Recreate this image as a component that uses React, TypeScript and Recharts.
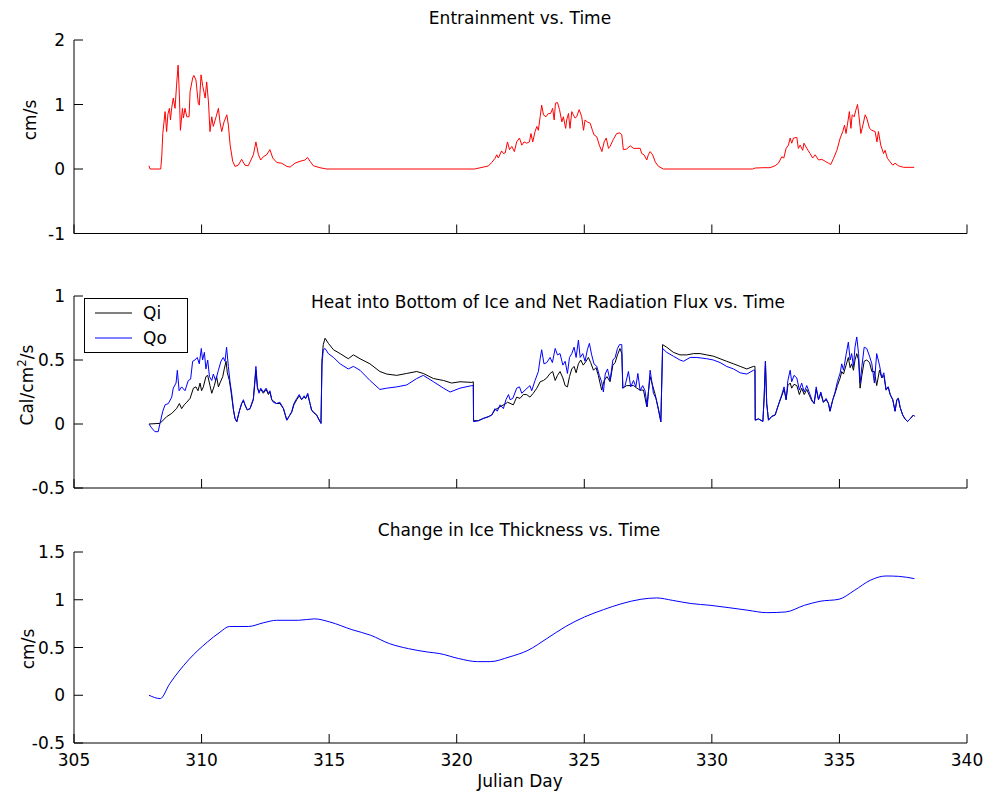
import { LineChart, Line, XAxis, YAxis, Legend } from "recharts";

const FONT = '"DejaVu Sans", Arial, sans-serif';
const FS = 17;

// [julian day, value]
const entrainment: [number, number][] = [
  [307.94, 0.05], [307.98, 0.0], [308.4, 0.0], [308.44, 0.2], [308.48, 0.55], [308.52, 0.7], [308.57, 0.89],
  [308.63, 0.58], [308.68, 0.85], [308.74, 0.94], [308.78, 0.76], [308.83, 0.95], [308.89, 1.1], [308.96, 0.94],
  [309.02, 1.3], [309.08, 1.61], [309.13, 1.15], [309.17, 0.6], [309.25, 0.94], [309.29, 0.79], [309.35, 0.94],
  [309.42, 0.81], [309.51, 0.81], [309.55, 1.2], [309.65, 1.41], [309.7, 1.45], [309.78, 1.38], [309.87, 1.02],
  [309.91, 0.99], [309.98, 1.46], [310.04, 1.3], [310.14, 1.1], [310.2, 1.35], [310.27, 1.04], [310.33, 0.58],
  [310.4, 0.81], [310.46, 0.66], [310.57, 0.81], [310.66, 0.94], [310.72, 0.73], [310.79, 0.58], [310.88, 0.73],
  [310.99, 0.84], [311.05, 0.68], [311.12, 0.37], [311.22, 0.12], [311.31, 0.04], [311.44, 0.06], [311.57, 0.15],
  [311.7, 0.06], [311.83, 0.05], [312.03, 0.22], [312.13, 0.42], [312.23, 0.22], [312.32, 0.14], [312.42, 0.19],
  [312.55, 0.22], [312.68, 0.3], [312.79, 0.17], [312.95, 0.1], [313.14, 0.09], [313.34, 0.04], [313.47, 0.03],
  [313.66, 0.09], [313.86, 0.12], [314.06, 0.14], [314.15, 0.18], [314.25, 0.12], [314.38, 0.05], [314.64, 0.02],
  [314.9, 0.0], [320.7, 0.0], [321.24, 0.047], [321.37, 0.1], [321.5, 0.165], [321.57, 0.22], [321.63, 0.17],
  [321.76, 0.28], [321.83, 0.24], [321.9, 0.25], [321.99, 0.42], [322.07, 0.3], [322.16, 0.35], [322.26, 0.27],
  [322.35, 0.42], [322.46, 0.48], [322.55, 0.37], [322.64, 0.42], [322.74, 0.4], [322.85, 0.42], [322.91, 0.55],
  [322.98, 0.42], [323.07, 0.58], [323.14, 0.66], [323.2, 0.6], [323.27, 0.81], [323.33, 0.99], [323.4, 0.84],
  [323.5, 0.81], [323.59, 0.86], [323.68, 0.86], [323.76, 0.94], [323.82, 0.76], [323.87, 1.02], [323.95, 1.03],
  [324.03, 0.92], [324.12, 0.73], [324.18, 0.81], [324.27, 0.63], [324.31, 0.76], [324.38, 0.86], [324.44, 0.63],
  [324.51, 0.89], [324.57, 0.84], [324.64, 0.79], [324.7, 0.81], [324.8, 0.92], [324.9, 0.81], [324.97, 0.6],
  [325.03, 0.76], [325.12, 0.73], [325.23, 0.71], [325.32, 0.6], [325.38, 0.53], [325.49, 0.5], [325.59, 0.37],
  [325.69, 0.27], [325.78, 0.42], [325.86, 0.48], [325.95, 0.32], [326.01, 0.35], [326.14, 0.46], [326.27, 0.55],
  [326.4, 0.56], [326.47, 0.53], [326.53, 0.3], [326.66, 0.31], [326.8, 0.36], [326.93, 0.32], [327.06, 0.32],
  [327.19, 0.32], [327.25, 0.24], [327.34, 0.22], [327.45, 0.14], [327.51, 0.22], [327.58, 0.27], [327.68, 0.22],
  [327.78, 0.11], [327.91, 0.04], [328.1, 0.0], [331.6, 0.0], [331.7, 0.015], [332.0, 0.02], [332.28, 0.02],
  [332.48, 0.05], [332.61, 0.09], [332.74, 0.19], [332.82, 0.17], [332.91, 0.32], [333.0, 0.37], [333.07, 0.48],
  [333.13, 0.4], [333.2, 0.48], [333.33, 0.49], [333.39, 0.32], [333.46, 0.37], [333.56, 0.29], [333.61, 0.4],
  [333.72, 0.32], [333.85, 0.24], [333.95, 0.17], [334.05, 0.22], [334.18, 0.14], [334.31, 0.15], [334.44, 0.12],
  [334.57, 0.09], [334.66, 0.07], [334.77, 0.165], [334.9, 0.29], [335.03, 0.48], [335.13, 0.58], [335.2, 0.68],
  [335.26, 0.55], [335.31, 0.68], [335.39, 0.89], [335.45, 0.63], [335.5, 0.84], [335.58, 0.81], [335.64, 0.91],
  [335.71, 1.0], [335.76, 0.84], [335.84, 0.55], [335.92, 0.68], [336.01, 0.84], [336.07, 0.79], [336.18, 0.63],
  [336.27, 0.6], [336.4, 0.58], [336.47, 0.42], [336.53, 0.58], [336.62, 0.37], [336.73, 0.24], [336.79, 0.29],
  [336.88, 0.165], [336.99, 0.11], [337.09, 0.06], [337.18, 0.09], [337.31, 0.05], [337.51, 0.026], [337.93, 0.026],
];

const qi: [number, number][] = [
  [307.94, 0.0], [308.37, 0.005], [308.63, 0.057], [308.83, 0.083], [309.02, 0.12], [309.13, 0.16], [309.22, 0.12],
  [309.32, 0.15], [309.42, 0.17], [309.55, 0.2], [309.68, 0.28], [309.78, 0.29], [309.86, 0.26], [309.94, 0.32],
  [310.0, 0.26], [310.07, 0.29], [310.17, 0.37], [310.24, 0.38], [310.33, 0.3], [310.4, 0.24], [310.5, 0.3],
  [310.59, 0.37], [310.66, 0.29], [310.72, 0.32], [310.83, 0.37], [310.89, 0.43], [310.96, 0.49], [311.01, 0.4],
  [311.09, 0.34], [311.15, 0.26], [311.25, 0.11], [311.31, 0.044], [311.38, 0.018], [311.48, 0.1], [311.57, 0.16],
  [311.64, 0.18], [311.7, 0.15], [311.79, 0.11], [311.9, 0.12], [312.03, 0.19], [312.13, 0.42], [312.19, 0.28],
  [312.25, 0.25], [312.32, 0.27], [312.42, 0.24], [312.53, 0.27], [312.62, 0.23], [312.68, 0.25], [312.75, 0.19],
  [312.81, 0.18], [312.94, 0.16], [313.07, 0.16], [313.21, 0.12], [313.34, 0.03], [313.43, 0.06], [313.53, 0.09],
  [313.62, 0.15], [313.73, 0.19], [313.83, 0.22], [313.92, 0.19], [314.02, 0.21], [314.08, 0.2], [314.16, 0.23],
  [314.25, 0.16], [314.31, 0.11], [314.38, 0.09], [314.51, 0.07], [314.64, 0.02], [314.68, 0.005], [314.72, 0.5],
  [314.77, 0.62], [314.84, 0.67], [314.97, 0.63], [315.17, 0.58], [315.43, 0.55], [315.75, 0.51], [315.95, 0.54],
  [316.21, 0.51], [316.6, 0.47], [316.99, 0.41], [317.26, 0.39], [317.65, 0.38], [318.04, 0.395], [318.43, 0.41],
  [318.69, 0.395], [319.09, 0.355], [319.48, 0.34], [319.8, 0.32], [320.13, 0.33], [320.59, 0.325], [320.65, 0.33],
  [320.66, 0.026], [320.85, 0.026], [321.05, 0.044], [321.24, 0.057], [321.37, 0.07], [321.5, 0.11], [321.7, 0.135],
  [321.93, 0.16], [321.99, 0.17], [322.22, 0.15], [322.35, 0.21], [322.48, 0.2], [322.61, 0.23], [322.74, 0.23],
  [322.87, 0.21], [323.0, 0.24], [323.14, 0.28], [323.27, 0.33], [323.4, 0.34], [323.53, 0.36], [323.66, 0.395],
  [323.76, 0.41], [323.86, 0.34], [323.95, 0.38], [324.05, 0.41], [324.16, 0.36], [324.25, 0.3], [324.34, 0.29],
  [324.42, 0.37], [324.51, 0.43], [324.6, 0.45], [324.68, 0.4], [324.77, 0.47], [324.86, 0.5], [324.96, 0.46],
  [325.07, 0.49], [325.16, 0.52], [325.25, 0.48], [325.36, 0.42], [325.46, 0.44], [325.55, 0.38], [325.68, 0.265],
  [325.78, 0.34], [325.89, 0.37], [326.01, 0.33], [326.12, 0.46], [326.21, 0.48], [326.3, 0.54], [326.4, 0.59],
  [326.47, 0.55], [326.51, 0.28], [326.66, 0.3], [326.8, 0.3], [326.93, 0.3], [327.06, 0.28], [327.19, 0.265],
  [327.32, 0.265], [327.45, 0.135], [327.58, 0.37], [327.68, 0.3], [327.78, 0.23], [327.91, 0.11], [328.0, 0.018],
  [328.07, 0.62], [328.23, 0.6], [328.49, 0.56], [328.75, 0.54], [329.02, 0.54], [329.28, 0.55], [329.54, 0.55],
  [329.8, 0.54], [330.06, 0.53], [330.32, 0.51], [330.58, 0.49], [330.85, 0.47], [331.11, 0.45], [331.37, 0.43],
  [331.63, 0.45], [331.69, 0.45], [331.7, 0.03], [331.83, 0.04], [332.0, 0.02], [332.05, 0.21], [332.1, 0.49],
  [332.15, 0.16], [332.22, 0.03], [332.35, 0.06], [332.48, 0.07], [332.61, 0.15], [332.74, 0.22], [332.83, 0.27],
  [332.91, 0.19], [332.98, 0.3], [333.07, 0.32], [333.13, 0.28], [333.22, 0.31], [333.33, 0.3], [333.43, 0.23],
  [333.52, 0.28], [333.62, 0.23], [333.72, 0.27], [333.83, 0.22], [333.92, 0.18], [334.01, 0.16], [334.09, 0.27],
  [334.18, 0.19], [334.27, 0.24], [334.37, 0.17], [334.48, 0.19], [334.57, 0.16], [334.63, 0.1], [334.74, 0.19],
  [334.83, 0.24], [334.92, 0.3], [335.03, 0.36], [335.09, 0.41], [335.16, 0.39], [335.26, 0.46], [335.35, 0.52],
  [335.42, 0.44], [335.48, 0.47], [335.55, 0.42], [335.61, 0.5], [335.68, 0.55], [335.75, 0.5], [335.81, 0.28],
  [335.88, 0.38], [335.97, 0.49], [336.07, 0.5], [336.18, 0.48], [336.27, 0.41], [336.37, 0.41], [336.46, 0.3],
  [336.57, 0.42], [336.66, 0.36], [336.74, 0.38], [336.83, 0.265], [336.91, 0.29], [336.99, 0.23], [337.09, 0.19],
  [337.18, 0.1], [337.25, 0.19], [337.31, 0.2], [337.38, 0.13], [337.48, 0.07], [337.57, 0.04], [337.67, 0.02],
  [337.77, 0.04], [337.9, 0.07], [337.94, 0.06],
];

const qo: [number, number][] = [
  [307.94, 0.0], [308.04, -0.03], [308.17, -0.06], [308.3, -0.06], [308.37, 0.005], [308.48, 0.1], [308.57, 0.15],
  [308.7, 0.16], [308.83, 0.21], [308.89, 0.28], [309.0, 0.32], [309.05, 0.42], [309.12, 0.26], [309.22, 0.29],
  [309.35, 0.26], [309.48, 0.34], [309.57, 0.35], [309.65, 0.49], [309.74, 0.5], [309.83, 0.52], [309.91, 0.47],
  [309.99, 0.59], [310.04, 0.5], [310.11, 0.56], [310.17, 0.43], [310.24, 0.5], [310.31, 0.37], [310.4, 0.34],
  [310.46, 0.39], [310.55, 0.34], [310.66, 0.42], [310.76, 0.49], [310.85, 0.52], [310.92, 0.49], [310.98, 0.6],
  [311.05, 0.45], [311.12, 0.32], [311.18, 0.24], [311.25, 0.11], [311.31, 0.044], [311.38, 0.018], [311.48, 0.1],
  [311.57, 0.16], [311.64, 0.19], [311.7, 0.15], [311.79, 0.11], [311.9, 0.12], [312.03, 0.2], [312.13, 0.45],
  [312.19, 0.29], [312.25, 0.24], [312.32, 0.28], [312.42, 0.25], [312.53, 0.28], [312.62, 0.24], [312.68, 0.26],
  [312.75, 0.19], [312.81, 0.17], [312.94, 0.16], [313.07, 0.17], [313.21, 0.12], [313.34, 0.03], [313.43, 0.06],
  [313.53, 0.096], [313.62, 0.16], [313.73, 0.2], [313.83, 0.23], [313.92, 0.19], [314.02, 0.22], [314.08, 0.2],
  [314.16, 0.24], [314.25, 0.16], [314.31, 0.11], [314.38, 0.096], [314.51, 0.07], [314.64, 0.018], [314.68, 0.005],
  [314.72, 0.47], [314.77, 0.58], [314.84, 0.59], [314.97, 0.55], [315.17, 0.52], [315.43, 0.47], [315.75, 0.43],
  [315.95, 0.45], [316.21, 0.42], [316.6, 0.34], [316.99, 0.27], [317.26, 0.28], [317.65, 0.29], [318.04, 0.305],
  [318.43, 0.355], [318.69, 0.38], [319.09, 0.33], [319.48, 0.28], [319.74, 0.25], [320.13, 0.28], [320.59, 0.3],
  [320.65, 0.3], [320.66, 0.018], [320.85, 0.026], [321.05, 0.044], [321.24, 0.057], [321.37, 0.07], [321.5, 0.12],
  [321.59, 0.1], [321.7, 0.15], [321.83, 0.12], [321.93, 0.19], [322.03, 0.23], [322.09, 0.19], [322.2, 0.2],
  [322.35, 0.28], [322.46, 0.29], [322.55, 0.24], [322.68, 0.265], [322.87, 0.3], [322.94, 0.26], [323.07, 0.34],
  [323.2, 0.41], [323.27, 0.51], [323.33, 0.58], [323.42, 0.47], [323.53, 0.48], [323.66, 0.52], [323.75, 0.48],
  [323.86, 0.59], [323.95, 0.54], [324.05, 0.55], [324.16, 0.46], [324.25, 0.49], [324.34, 0.395], [324.42, 0.52],
  [324.51, 0.55], [324.6, 0.6], [324.68, 0.52], [324.77, 0.655], [324.84, 0.52], [324.94, 0.55], [325.03, 0.49],
  [325.12, 0.58], [325.2, 0.63], [325.29, 0.54], [325.38, 0.47], [325.49, 0.45], [325.59, 0.38], [325.68, 0.33],
  [325.75, 0.25], [325.82, 0.39], [325.91, 0.43], [326.01, 0.34], [326.12, 0.5], [326.21, 0.52], [326.3, 0.59],
  [326.38, 0.62], [326.47, 0.62], [326.51, 0.28], [326.6, 0.3], [326.73, 0.41], [326.82, 0.29], [326.93, 0.34],
  [327.02, 0.29], [327.1, 0.395], [327.19, 0.26], [327.29, 0.3], [327.38, 0.26], [327.47, 0.135], [327.58, 0.42],
  [327.64, 0.34], [327.71, 0.24], [327.81, 0.2], [327.91, 0.11], [328.0, 0.018], [328.07, 0.59], [328.23, 0.56],
  [328.49, 0.53], [328.75, 0.5], [328.89, 0.49], [329.15, 0.52], [329.41, 0.52], [329.8, 0.51], [330.06, 0.5],
  [330.32, 0.48], [330.58, 0.45], [330.85, 0.43], [331.11, 0.4], [331.37, 0.39], [331.63, 0.42], [331.69, 0.42],
  [331.7, 0.03], [331.83, 0.04], [332.0, 0.02], [332.05, 0.21], [332.1, 0.49], [332.15, 0.16], [332.22, 0.03],
  [332.35, 0.06], [332.48, 0.07], [332.61, 0.15], [332.74, 0.23], [332.83, 0.29], [332.91, 0.19], [332.98, 0.34],
  [333.07, 0.42], [333.13, 0.33], [333.22, 0.38], [333.33, 0.36], [333.43, 0.265], [333.52, 0.32], [333.62, 0.25],
  [333.72, 0.3], [333.83, 0.24], [333.92, 0.19], [334.01, 0.16], [334.09, 0.29], [334.18, 0.19], [334.27, 0.25],
  [334.37, 0.17], [334.48, 0.2], [334.57, 0.16], [334.63, 0.1], [334.74, 0.19], [334.83, 0.25], [334.92, 0.33],
  [335.03, 0.4], [335.09, 0.47], [335.16, 0.42], [335.26, 0.54], [335.35, 0.64], [335.42, 0.5], [335.48, 0.55],
  [335.55, 0.45], [335.61, 0.6], [335.68, 0.68], [335.75, 0.55], [335.81, 0.32], [335.88, 0.45], [335.97, 0.6],
  [336.07, 0.59], [336.18, 0.53], [336.27, 0.47], [336.37, 0.32], [336.46, 0.55], [336.57, 0.46], [336.66, 0.36],
  [336.74, 0.4], [336.83, 0.265], [336.91, 0.29], [336.99, 0.23], [337.09, 0.19], [337.18, 0.1], [337.25, 0.19],
  [337.31, 0.2], [337.38, 0.13], [337.48, 0.07], [337.57, 0.04], [337.67, 0.02], [337.77, 0.04], [337.9, 0.07],
  [337.94, 0.06],
];

const iceChange: [number, number][] = [
  [307.94, 0.0], [308.38, -0.035], [308.75, 0.12], [309.49, 0.37], [310.23, 0.558], [310.72, 0.66], [311.09, 0.72],
  [311.83, 0.72], [312.44, 0.76], [312.94, 0.785], [313.8, 0.785], [314.42, 0.8], [315.03, 0.767], [315.89, 0.687],
  [316.63, 0.628], [317.37, 0.54], [318.11, 0.488], [318.85, 0.453], [319.34, 0.436], [320.08, 0.384], [320.82, 0.352],
  [321.31, 0.352], [322.05, 0.4], [322.79, 0.47], [323.53, 0.593], [324.27, 0.72], [325.01, 0.82], [325.75, 0.896],
  [326.48, 0.96], [327.22, 1.005], [327.84, 1.019], [328.45, 0.994], [329.19, 0.96], [329.93, 0.942], [330.67, 0.917],
  [331.41, 0.89], [332.15, 0.865], [332.89, 0.872], [333.63, 0.942], [334.24, 0.984], [334.98, 1.005], [335.6, 1.1],
  [336.21, 1.204], [336.83, 1.249], [337.32, 1.245], [337.94, 1.221],
];

const xTicks = [305, 310, 315, 320, 325, 330, 335, 340];
const entrainTicks = [-1, 0, 1, 2];
const heatTicks = [-0.5, 0, 0.5, 1];
const iceTicks = [-0.5, 0, 0.5, 1, 1.5];

const toRows = (pts: [number, number][]) => pts.map(([d, v]) => ({ d, v }));

function XTick(props: any) {
  const { x, y, payload, showLabel } = props;
  return (
    <g>
      <line x1={x} y1={y} x2={x} y2={y - 9} stroke="#000" />
      {showLabel && (
        <text x={x} y={y + 23} textAnchor="middle" fontSize={FS} fontFamily={FONT} fill="#000">
          {payload.value}
        </text>
      )}
    </g>
  );
}

function YTick(props: any) {
  const { x, y, payload } = props;
  return (
    <g>
      <line x1={x} y1={y} x2={x + 9} y2={y} stroke="#000" />
      <text x={x - 9} y={y} dy="0.36em" textAnchor="end" fontSize={FS} fontFamily={FONT} fill="#000">
        {payload.value}
      </text>
    </g>
  );
}

function LegendBox(props: any) {
  const { payload } = props;
  return (
    <div style={{ width: 102, height: 53, border: "1px solid #000", background: "#fff", position: "relative", fontFamily: FONT, fontSize: FS }}>
      {(payload || []).map((p: any, i: number) => (
        <div key={p.value} style={{ position: "absolute", left: 0, top: 3 + i * 25, height: 22, display: "flex", alignItems: "center" }}>
          <svg width={52} height={22}>
            <line x1={10} y1={11} x2={47} y2={11} stroke={p.color} />
          </svg>
          <span style={{ marginLeft: 6, lineHeight: 1 }}>{p.value}</span>
        </div>
      ))}
    </div>
  );
}

function Txt({ x, y, rot, children }: { x: number; y: number; rot?: boolean; children: any }) {
  return (
    <div
      style={{
        position: "absolute",
        left: x,
        top: y,
        transform: `translate(-50%, -50%)${rot ? " rotate(-90deg)" : ""}`,
        whiteSpace: "nowrap",
        fontFamily: FONT,
        fontSize: FS,
        lineHeight: 1,
        color: "#000",
      }}
    >
      {children}
    </div>
  );
}

const xAxisProps = (showLabel: boolean) => ({
  dataKey: "d",
  type: "number" as const,
  domain: [305, 340],
  ticks: xTicks,
  interval: 0 as const,
  tickSize: 0,
  tickMargin: 0,
  height: 20,
  axisLine: { stroke: "#000" },
  tickLine: false,
  allowDuplicatedCategory: false,
  tick: (p: any) => <XTick {...p} showLabel={showLabel} />,
});

const yAxisProps = (domain: number[], ticks: number[]) => ({
  type: "number" as const,
  domain,
  ticks,
  interval: 0 as const,
  tickSize: 0,
  tickMargin: 0,
  width: 20,
  axisLine: { stroke: "#000" },
  tickLine: false,
  allowDataOverflow: true,
  tick: (p: any) => <YTick {...p} />,
});

export default function App() {
  return (
    <div style={{ position: "absolute", left: 0, top: 0, width: 984, height: 794, background: "#fff", overflow: "hidden" }}>
      <div style={{ position: "absolute", left: 0, top: 0 }}>
        <LineChart width={984} height={265} margin={{ top: 40, right: 17, left: 54, bottom: 11.5 }}>
          <XAxis {...xAxisProps(false)} />
          <YAxis {...yAxisProps([-1, 2], entrainTicks)} />
          <Line data={toRows(entrainment)} dataKey="v" name="Entrainment" type="linear" stroke="#ff0000" strokeWidth={1} dot={false} isAnimationActive={false} />
        </LineChart>
      </div>
      <div style={{ position: "absolute", left: 0, top: 265 }}>
        <LineChart width={984} height={265} margin={{ top: 31, right: 17, left: 54, bottom: 22 }}>
          <XAxis {...xAxisProps(false)} />
          <YAxis {...yAxisProps([-0.5, 1], heatTicks)} />
          <Legend
            layout="vertical"
            align="center"
            verticalAlign="middle"
            wrapperStyle={{ left: 84, top: 33, width: 104, height: 55 }}
            content={(p: any) => <LegendBox {...p} />}
          />
          <Line data={toRows(qi)} dataKey="v" name="Qi" type="linear" stroke="#000000" strokeWidth={1} dot={false} isAnimationActive={false} />
          <Line data={toRows(qo)} dataKey="v" name="Qo" type="linear" stroke="#0000ff" strokeWidth={1} dot={false} isAnimationActive={false} />
        </LineChart>
      </div>
      <div style={{ position: "absolute", left: 0, top: 530 }}>
        <LineChart width={984} height={264} margin={{ top: 22, right: 17, left: 54, bottom: 31 }}>
          <XAxis {...xAxisProps(true)} />
          <YAxis {...yAxisProps([-0.5, 1.5], iceTicks)} />
          <Line data={toRows(iceChange)} dataKey="v" name="Ice" type="monotone" stroke="#0000ff" strokeWidth={1} dot={false} isAnimationActive={false} />
        </LineChart>
      </div>

      <Txt x={520} y={18}>Entrainment vs. Time</Txt>
      <Txt x={548} y={302}>Heat into Bottom of Ice and Net Radiation Flux vs. Time</Txt>
      <Txt x={519} y={530}>Change in Ice Thickness vs. Time</Txt>
      <Txt x={520} y={781}>Julian Day</Txt>
      <Txt x={30} y={120} rot>cm/s</Txt>
      <Txt x={27} y={385} rot>
        Cal/cm<sup style={{ fontSize: "0.7em", lineHeight: 0 }}>2</sup>/s
      </Txt>
      <Txt x={28} y={649} rot>cm/s</Txt>
    </div>
  );
}
